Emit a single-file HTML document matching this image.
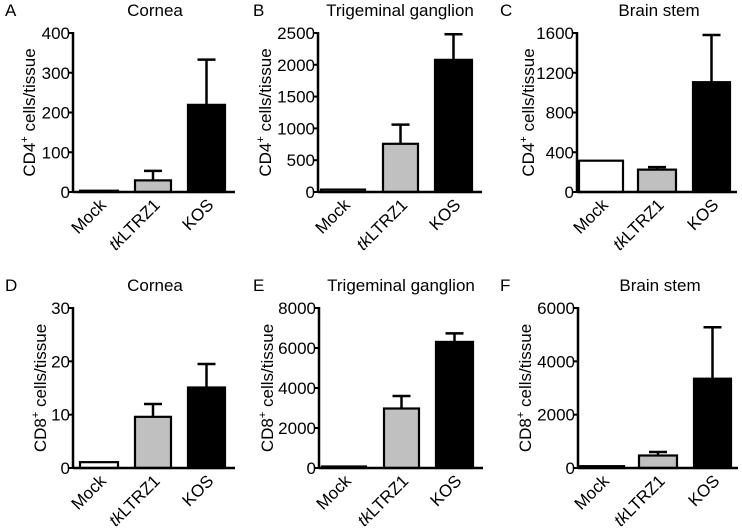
<!DOCTYPE html>
<html><head><meta charset="utf-8"><style>
body{margin:0;background:#fff}
svg{display:block;font-family:"Liberation Sans",Arial,sans-serif}
</style></head><body>
<svg id="c" width="742" height="532"></svg>
<script>
const categories=["Mock","tkLTRZ1","KOS"];
const panelLetters=["A","B","C","D","E","F"];
const panelTitles=["Cornea","Trigeminal ganglion","Brain stem","Cornea","Trigeminal ganglion","Brain stem"];
const cellTypes=["4","4","4","8","8","8"];
const maxima=[400,2500,1600,30,8000,6000];
const tickStep=[100,500,400,10,2000,2000];
const meansA=[2,28,218], errA=[0,25,115];
const meansB=[30,750,2070], errB=[0,310,410];
const meansC=[310,220,1100], errC=[0,30,480];
const meansD=[1,9.5,15], errD=[0,2.5,4.5];
const meansE=[50,2950,6280], errE=[0,650,450];
const meansF=[50,450,3330], errF=[0,150,1950];
const means=[meansA,meansB,meansC,meansD,meansE,meansF];
const errs=[errA,errB,errC,errD,errE,errF];
const fills=["#fff","#c0c0c0","#000"];
const svg=document.getElementById('c');
const NS="http://www.w3.org/2000/svg";
function mk(t,a,p){const e=document.createElementNS(NS,t);for(const k in a)e.setAttribute(k,a[k]);(p||svg).appendChild(e);return e;}
const axXs=[73,318,577,73,319,578];
const yTitleOff=[44,53,49,33,52,53];
const letterX=[5,253,500,5,253,500];
const rowTop=[33,308], rowBot=[192,468];
const barOffCols=[[[7,45],[62,98],[115,152]],[[3,47],[65,100],[117,154]],[[2,46],[61,99],[116,153]]];
const axLen=[162,164,160];
for(let p=0;p<6;p++){
  const col=p%3,row=Math.floor(p/3);
  const g=mk('g',{});
  
  
  const x0=axXs[p],yT=rowTop[row],yB=rowBot[row];
  const y=v=>yB-(v/maxima[p])*(yB-yT);
  const L=mk('text',{x:letterX[p],y:yT-17,'font-size':17},g);L.textContent=panelLetters[p];
  
  const T=mk('text',{x:x0+82,y:yT-17,'font-size':17,'text-anchor':'middle'},g);T.textContent=panelTitles[p];
  
  const yt=mk('text',{transform:`translate(${x0-yTitleOff[p]+6},${(yT+yB)/2}) rotate(-90)`,'font-size':17,'text-anchor':'middle'},g);
  yt.innerHTML=`CD${cellTypes[p]}<tspan dy="-7" font-size="11">+</tspan><tspan dy="7"> cells/tissue</tspan>`;
  
  for(let v=0;v<=maxima[p];v+=tickStep[p]){
    mk('line',{x1:x0-5,x2:x0,y1:y(v),y2:y(v),stroke:'#000','stroke-width':2},g);
    const t=mk('text',{x:x0-3,y:y(v)+6,'font-size':17,'text-anchor':'end'},g);t.textContent=v;
    
  }
  const barOff=barOffCols[col];
  for(let i=0;i<3;i++){
    const [a,b]=barOff[i];const m=means[p][i],e=errs[p][i];
    if(e>0){const el=mk('line',{x1:x0+(a+b)/2,x2:x0+(a+b)/2,y1:y(m),y2:y(m+e),stroke:'#000','stroke-width':2.5},g);
      
      mk('line',{x1:x0+(a+b)/2-9,x2:x0+(a+b)/2+9,y1:y(m+e),y2:y(m+e),stroke:'#000','stroke-width':2.5},g);}
    const r=mk('rect',{x:x0+a,y:y(m)-0.5,width:b-a,height:Math.max(yB-y(m),0)+0.5,fill:fills[i],stroke:'#000','stroke-width':2.2},g);
    
    const lx=x0+(a+b)/2+8,ly=yB+14;
    const xl=mk('text',{transform:`translate(${lx},${ly}) rotate(-45)`,'font-size':17,'text-anchor':'end'},g);
    xl.innerHTML=i==1?'<tspan font-style="italic">tk</tspan>LTRZ1':categories[i];
    
  }
  mk('line',{x1:x0,x2:x0,y1:yT-1,y2:yB+1,stroke:'#000','stroke-width':2.5},g);
  mk('line',{x1:x0,x2:x0+axLen[col],y1:yB,y2:yB,stroke:'#000','stroke-width':2.5},g);
}
</script>
</body></html>
